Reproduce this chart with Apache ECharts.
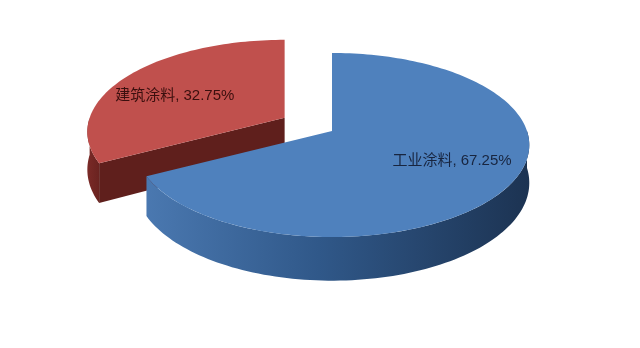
<!DOCTYPE html>
<html>
<head>
<meta charset="utf-8">
<script src="https://cdn.jsdelivr.net/npm/echarts@6/dist/echarts.min.js"></script>
<style>html,body{margin:0;padding:0;background:#fff}#c{width:640px;height:348px}</style>
</head>
<body>
<div id="c"></div>
<script>
// ---- data ----
const categories = ['工业涂料', '建筑涂料'];
const shares = [67.25, 32.75];

// ---- style / layout ----
const topColors = ['#4f81bd', '#c0504d'];
const labelColors = ['#18253f', '#3a0f0e'];
const explodeBy = [0, 0.29];
const labelNudge = [[0, -3], [-2, 8]];
const G = { cx: 332, cy: 131, R: 195, S: 89.9, b: 0.152, D: 37 };
const LABEL_K = 0.68;

const total = shares.reduce((a, b) => a + b, 0);
const rad = d => d * Math.PI / 180;

function proj(u, v, dz) {
  const w = 1 - G.b * v;
  return [G.cx + G.R * u / w, G.cy + (G.S * v + (dz || 0)) / w];
}

function sliceAngles(i) {
  let s = 0;
  for (let k = 0; k < i; k++) s += shares[k] / total * 360;
  return [s, s + shares[i] / total * 360];
}

function arcPts(a0, a1, dz) {
  const pts = [];
  const n = Math.max(2, Math.ceil((a1 - a0) / 1.5));
  for (let j = 0; j <= n; j++) {
    const t = rad(a0 + (a1 - a0) * j / n);
    pts.push(proj(Math.sin(t), -Math.cos(t), dz));
  }
  return pts;
}

function sideFill(i) {
  if (i === 0) {
    return new echarts.graphic.LinearGradient(0, 0, 1, 0, [
      { offset: 0, color: '#4a78b0' },
      { offset: 0.45, color: '#305889' },
      { offset: 1, color: '#1c3352' }
    ]);
  }
  return new echarts.graphic.LinearGradient(0, 0, 1, 0, [
    { offset: 0, color: '#7a2a27' },
    { offset: 1, color: '#6a2320' }
  ]);
}

function renderItem(params, api) {
  const i = params.dataIndex;
  const [a0, a1] = sliceAngles(i);
  const mid = rad((a0 + a1) / 2);
  // explode as a screen-space shift of the projected slice
  const ep = proj(explodeBy[i] * Math.sin(mid), -explodeBy[i] * Math.cos(mid), 0);
  const dx = ep[0] - G.cx, dy = ep[1] - G.cy;
  const base = i === 0 ? 10 : 0;
  const children = [];
  const D = G.D;

  // walls
  const walls = [];
  if (Math.sin(rad(a0)) < -1e-6) walls.push(a0);
  if (Math.sin(rad(a1)) > 1e-6) walls.push(a1);
  walls.forEach(a => {
    const t = rad(a);
    const c0 = proj(0, 0, 0), c1 = proj(0, 0, D);
    const r0 = proj(Math.sin(t), -Math.cos(t), 0);
    const r1 = proj(Math.sin(t), -Math.cos(t), D);
    children.push({ type: 'polygon', z2: base + 1,
      shape: { points: [c0, r0, r1, c1] },
      style: { fill: i === 0 ? '#2f5689' : '#5f1f1c' } });
  });

  // outer side band (front facing part)
  const s0 = Math.max(a0, 90), s1 = Math.min(a1, 270);
  if (s1 > s0) {
    const topArc = arcPts(s0, s1, 0);
    const botArc = arcPts(s0, s1, D).reverse();
    children.push({ type: 'polygon', z2: base + 2,
      shape: { points: topArc.concat(botArc) },
      style: { fill: sideFill(i) } });
  }

  // top face
  const pts = [proj(0, 0, 0)].concat(arcPts(a0, a1, 0));
  children.push({ type: 'polygon', z2: base + 5,
    shape: { points: pts },
    style: { fill: topColors[i] } });

  // label
  const lp = proj(LABEL_K * Math.sin(mid), -LABEL_K * Math.cos(mid), 0);
  children.push({ type: 'text', z2: 50,
    style: { text: categories[i] + ', ' + shares[i].toFixed(2) + '%',
      x: lp[0] + labelNudge[i][0], y: lp[1] + labelNudge[i][1],
      align: 'center', verticalAlign: 'middle',
      fill: labelColors[i],
      font: '15px "Liberation Sans", "Noto Sans CJK SC", sans-serif' } });

  return { type: 'group', x: dx, y: dy, children: children };
}

const chart = echarts.init(document.getElementById('c'), null, { renderer: 'canvas' });
chart.setOption({
  backgroundColor: '#ffffff',
  animation: false,
  series: [{
    type: 'custom',
    coordinateSystem: 'none',
    renderItem: renderItem,
    data: shares.map((v, i) => ({ name: categories[i], value: v }))
  }]
});
</script>
</body>
</html>
